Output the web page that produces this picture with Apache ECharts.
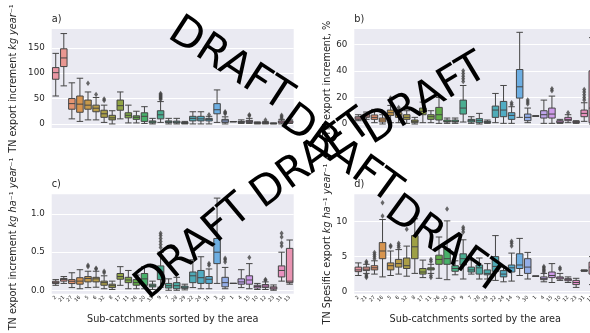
<!DOCTYPE html>
<html>
<head>
<meta charset="utf-8">
<script src="https://cdn.jsdelivr.net/npm/echarts@6/dist/echarts.min.js"></script>
<style>
html, body {margin: 0; padding: 0; background: #fff;}
#chart {width: 590px; height: 333px;}
</style>
</head>
<body>
<div id="chart"></div>
<script>
const categories = ['2', '21', '27', '16', '5', '6', '32', '8', '17', '11', '26', '20', '33', '9', '7',
    '28', '29', '22', '24', '14', '3', '30', '1', '4', '15', '10', '12', '23', '31', '13'];

// [min, q1, median, q3, max] for every sub-catchment, same order as categories
const boxA = [
    [55, 88, 101, 111, 139], [75, 113, 130, 148, 178], [10, 29, 40, 50, 81], [5, 23, 39, 55, 90],
    [8, 29, 37, 47, 63], [8, 24, 31, 37, 52], [3, 13, 20, 27, 37], [0, 8, 12, 17, 26],
    [10, 27, 36, 47, 63], [2, 12, 17, 22, 37], [2, 9, 13, 16, 25], [1, 5, 15, 22, 34],
    [0, 2, 4, 6, 11], [3, 10, 18, 26, 44], [0, 2.5, 4, 6, 11], [0, 2, 3.5, 5.5, 11],
    [0, 1, 2, 3, 5], [0, 6, 11, 15, 24], [0, 6, 10, 15, 24], [0, 6, 9, 11, 15],
    [3, 20, 28, 40, 67], [0, 3, 6, 9, 14], [4.5, 4.5, 4.5, 4.5, 4.5], [1, 3, 4, 5, 8],
    [1, 3, 5, 7, 11], [0, 1, 2, 3, 4], [0, 1, 2, 3, 5], [0, 0.5, 1, 1.5, 2],
    [0, 2, 4, 6, 9], [1, 2, 4, 6, 8]
];
const outA = [['5', 80], ['6', 58], ['32', 49], ['32', 46], ['9', 48], ['9', 50], ['9', 52], ['9', 54],
    ['9', 56], ['9', 58], ['9', 60], ['14', 18], ['30', 20], ['30', 22], ['30', 24], ['15', 16], ['15', 18],
    ['12', 8], ['31', 11], ['31', 14], ['31', 17]];

const boxB = [
    [2.5, 3.5, 4.5, 5.5, 7], [3.5, 5, 6, 7.5, 9], [1, 3.5, 5, 6.8, 11], [0, 1.5, 3, 4.5, 7],
    [1, 6.5, 8.5, 10.5, 14], [1, 5, 7, 8.5, 11], [0.5, 3.5, 5, 7, 10], [0, 1, 2, 3, 5],
    [1, 7, 9.5, 12, 16.5], [1, 3.5, 5.5, 7, 10], [0.5, 3, 7, 12.5, 20], [0.5, 1.5, 2, 3, 4.5],
    [0.5, 1.5, 2, 3, 4.5], [1.5, 7.5, 12, 18, 29], [0.5, 1.5, 2.5, 3.5, 5.5], [0, 1, 2.5, 4, 8],
    [0.5, 1, 1.5, 2, 3], [1, 5, 10.5, 13.5, 23], [0.5, 5.5, 10.5, 17, 29], [0.5, 3.5, 6.5, 8.5, 13],
    [5, 19.5, 28, 41, 69], [1, 2.5, 5, 7.5, 12], [6, 6, 6, 6, 6], [0.5, 4.5, 7, 10, 18],
    [0.5, 4.5, 7.5, 12, 21], [0.5, 1, 1.5, 2.5, 3.5], [1, 2.5, 3.5, 5, 7], [0.5, 1, 1.5, 2, 2.5],
    [2, 5.5, 8, 10.5, 16], [0, 1, 12, 40, 65]
];
const outB = [['5', 18], ['5', 19.5], ['6', 12.5], ['9', 32], ['9', 34], ['9', 36], ['9', 38], ['9', 40],
    ['14', 14.5], ['14', 16], ['30', 15], ['30', 16.5], ['30', 18], ['15', 25], ['15', 26.5], ['12', 8.5],
    ['31', 18], ['31', 20], ['31', 22], ['31', 24], ['31', 26]];

const boxC = [
    [0.065, 0.088, 0.1, 0.118, 0.14], [0.09, 0.12, 0.14, 0.155, 0.18], [0.035, 0.088, 0.118, 0.14, 0.23],
    [0.02, 0.08, 0.12, 0.165, 0.27], [0.035, 0.11, 0.155, 0.18, 0.25], [0.04, 0.11, 0.15, 0.17, 0.25],
    [0.02, 0.066, 0.1, 0.12, 0.19], [0.01, 0.035, 0.06, 0.08, 0.12], [0.065, 0.145, 0.18, 0.22, 0.31],
    [0.02, 0.1, 0.135, 0.17, 0.26], [0.02, 0.066, 0.1, 0.14, 0.2], [0.02, 0.066, 0.15, 0.22, 0.31],
    [0.01, 0.044, 0.06, 0.08, 0.12], [0.04, 0.14, 0.24, 0.32, 0.5], [0, 0.03, 0.06, 0.09, 0.15],
    [0, 0.02, 0.06, 0.1, 0.17], [0.005, 0.025, 0.04, 0.055, 0.08], [0.035, 0.1, 0.19, 0.24, 0.4],
    [0.02, 0.09, 0.165, 0.26, 0.44], [0.02, 0.09, 0.145, 0.18, 0.28], [0.09, 0.35, 0.5, 0.68, 1.21],
    [0.02, 0.045, 0.1, 0.17, 0.3], [0.09, 0.09, 0.09, 0.09, 0.09], [0.035, 0.08, 0.11, 0.15, 0.27],
    [0.02, 0.08, 0.135, 0.19, 0.35], [0.01, 0.03, 0.05, 0.066, 0.09], [0.01, 0.035, 0.055, 0.075, 0.11],
    [0, 0.015, 0.03, 0.045, 0.07], [0.12, 0.175, 0.26, 0.32, 0.5], [0.08, 0.1, 0.12, 0.55, 0.66]
];
const outC = [['5', 0.31], ['5', 0.33], ['6', 0.28], ['6', 0.29], ['32', 0.23], ['32', 0.25],
    ['9', 0.56], ['9', 0.6], ['9', 0.64], ['9', 0.68], ['9', 0.72], ['9', 0.75], ['14', 0.33], ['14', 0.35],
    ['30', 0.37], ['30', 0.4], ['30', 0.42], ['15', 0.43], ['12', 0.13], ['12', 0.14],
    ['31', 0.58], ['31', 0.62], ['31', 0.7], ['31', 0.75]];

const boxD = [
    [2.3, 2.85, 3.1, 3.5, 4.1], [2.6, 3, 3.2, 3.5, 3.9], [2.5, 3.1, 3.4, 3.7, 4.4], [2.1, 4.7, 5.8, 7, 10.3],
    [2.3, 3.1, 3.7, 4.1, 5.8], [2.5, 3.5, 4, 4.6, 6], [2.2, 3.3, 3.7, 4.8, 6.5], [2.6, 4.7, 6.4, 8, 10.4],
    [2, 2.5, 2.8, 3.3, 4.5], [2.6, 3.1, 3.25, 3.4, 3.9], [1.9, 3.9, 4.6, 5.2, 7.8], [1.7, 3.9, 4.7, 6.1, 10.1],
    [2.4, 2.9, 3.3, 3.7, 4.4], [1.8, 3.8, 4.7, 5.4, 7.4], [2.5, 2.8, 3.1, 3.5, 4.5], [1.8, 2.5, 3.4, 3.8, 4.8],
    [1.8, 2.4, 2.6, 3.1, 4], [1.6, 2.9, 3.6, 5, 8], [1.4, 2.1, 2.5, 3, 3.5], [1.5, 2.8, 3.4, 3.8, 5.5],
    [2.3, 3.3, 3.8, 5.4, 7.6], [1.8, 2.6, 3.5, 4.7, 5.6], [2.2, 2.2, 2.2, 2.2, 2.2], [1.4, 1.7, 1.85, 2.1, 2.6],
    [1.3, 2, 2.3, 2.8, 4], [1.6, 1.8, 1.95, 2.1, 2.6], [1.3, 1.55, 1.7, 1.85, 2.1], [0.6, 1, 1.3, 1.6, 1.9],
    [2.9, 2.95, 3, 3.05, 3.1], [1, 2.5, 3.5, 4.2, 5]
];
const outD = [['21', 4.1], ['21', 4.3], ['21', 2.4], ['21', 2.2], ['21', 2.0], ['27', 4.7], ['27', 5.0],
    ['27', 5.3], ['27', 5.6], ['16', 10.8], ['16', 12.7], ['5', 6.4], ['5', 6.6], ['6', 6.3], ['6', 6.6],
    ['6', 6.9], ['32', 8.9], ['11', 4.3], ['11', 4.6], ['11', 2.3], ['11', 2.0], ['20', 11.8], ['9', 8.5],
    ['9', 8.9], ['9', 9.2], ['14', 6.5], ['14', 6.9], ['14', 7.2], ['4', 2.8], ['4', 3.0], ['4', 3.2],
    ['4', 3.4], ['4', 3.6], ['10', 3.2], ['10', 3.4]];

// seaborn husl palette (l=.7) desaturated to .75, edges in a shared gray
const M = [[3.2406, -1.5372, -0.4986], [-0.9689, 1.8758, 0.0415], [0.0557, -0.2040, 1.0570]];
const maxChroma = (L, H) => {
    const hr = H * Math.PI / 180, sinH = Math.sin(hr), cosH = Math.cos(hr);
    const sub1 = Math.pow(L + 16, 3) / 1560896;
    const sub2 = sub1 > 0.008856 ? sub1 : L / 903.3;
    let result = Infinity;
    M.forEach(([m1, m2, m3]) => {
        const top = (0.99915 * m1 + 1.05122 * m2 + 1.14460 * m3) * sub2;
        const bottom = ((0.86330 * m3 - 0.17266 * m2) * sinH + (0.12949 * m3 - 0.38848 * m1) * cosH) * sub2;
        [0, 1].forEach(t => {
            const C = L * (top - 1.05122 * t) / (bottom + 0.17266 * sinH * t);
            if (C > 0 && C < result) result = C;
        });
    });
    return result;
};
const huslToRgb = (H, S, L) => {
    const C = maxChroma(L, H) / 100 * S;
    const hr = H * Math.PI / 180;
    const U = C * Math.cos(hr), V = C * Math.sin(hr);
    const t = (L + 16) / 116;
    const Y = t * t * t > 0.008856 ? t * t * t : (116 * t - 16) / 903.3;
    const vu = U / (13 * L) + 0.19784, vv = V / (13 * L) + 0.46834;
    const X = -(9 * Y * vu) / ((vu - 4) * vv - vu * vv);
    const Z = (9 * Y - 15 * vv * Y - vv * X) / (3 * vv);
    return M.map(r => {
        const c = r[0] * X + r[1] * Y + r[2] * Z;
        const v = c <= 0.0031308 ? 12.92 * c : 1.055 * Math.pow(c, 1 / 2.4) - 0.055;
        return Math.min(1, Math.max(0, v));
    });
};
const n = categories.length;
const palette = categories.map((c, i) => {
    const rgb = huslToRgb(((i / n + 0.01) % 1) * 359, 0.9 * 99, 0.7 * 99);
    const l = (Math.max(...rgb) + Math.min(...rgb)) / 2;
    return rgb.map(v => l + (v - l) * 0.75);
});
const lum = Math.min(...palette.map(c => (Math.max(...c) + Math.min(...c)) / 2)) * 0.6;
const gray = `rgb(${Math.round(lum * 255)},${Math.round(lum * 255)},${Math.round(lum * 255)})`;
const fills = palette.map(c => `rgb(${c.map(v => Math.round(v * 255)).join(',')})`);

const font = 'DejaVu Sans';
const textColor = '#262626';
const grids = [
    {left: 51.7, top: 29, width: 242, height: 99},
    {left: 354.3, top: 29, width: 242, height: 99},
    {left: 51.7, top: 194.3, width: 242, height: 99.4},
    {left: 354.3, top: 194.3, width: 242, height: 99.4},
];
const yNames = [
    ['TN export increment ', '{it|kg year}⁻¹'],
    ['TN export increment, %', ''],
    ['TN export increment ', '{it|kg ha}⁻¹ {it|year}⁻¹'],
    ['TN Spesific export ', '{it|kg ha}⁻¹ {it|year}⁻¹'],
];
const yRange = [[-8, 187, 4], [-3, 71.5, 4], [-0.045, 1.26, 3], [-0.3, 13.9, 3]];
const yGap = [33, 22, 33, 22];
const boxes = [boxA, boxB, boxC, boxD];
const outs = [outA, outB, outC, outD];
const letters = ['a)', 'b)', 'c)', 'd)'];

const chart = echarts.init(document.getElementById('chart'), null, {renderer: 'canvas'});

// watermark stamps: centre x, centre y, angle
const watermark = [
    [230, 65, -33], [340, 155, -36], [445, 246, -36],
    [194, 248, 40], [312, 160, 36], [425, 100, 31]
].map(([x, y, r]) => ({
    type: 'text', x, y, rotation: r * Math.PI / 180, z: 100,
    style: {text: 'DRAFT', fill: '#000', font: `42px "${font}"`, align: 'center', verticalAlign: 'middle'}
}));

chart.setOption({
    backgroundColor: '#fff',
    animation: false,
    textStyle: {fontFamily: font, color: textColor},
    grid: grids.map(g => Object.assign({show: true, backgroundColor: '#EAEAF2', borderWidth: 0,
        containLabel: false, outerBoundsMode: 'none'}, g)),
    xAxis: grids.map((g, i) => ({
        type: 'category', gridIndex: i, data: categories, boundaryGap: true,
        axisLine: {show: false}, axisTick: {show: false}, splitLine: {show: false},
        axisLabel: {show: i >= 2, interval: 0, rotate: 45, fontSize: 5, color: textColor, margin: 3},
        name: i >= 2 ? 'Sub-catchments sorted by the area' : '', nameLocation: 'middle', nameGap: 21,
        nameTextStyle: {fontSize: 9.7, color: textColor}
    })),
    yAxis: grids.map((g, i) => ({
        type: 'value', gridIndex: i, min: yRange[i][0], max: yRange[i][1], splitNumber: yRange[i][2],
        axisLine: {show: false}, axisTick: {show: false},
        splitLine: {show: true, showMinLine: false, showMaxLine: false, lineStyle: {color: '#fff', width: 1}},
        axisLabel: {
            fontSize: 8.7, color: textColor, margin: 7, showMinLabel: false, showMaxLabel: false,
            formatter: v => i === 2 ? v.toFixed(1) : String(v)
        },
        name: yNames[i][0] + yNames[i][1], nameLocation: 'middle', nameGap: yGap[i],
        nameTextStyle: {fontSize: 9.7, color: textColor, rich: {it: {fontStyle: 'italic', fontSize: 9.7, color: textColor}}}
    })),
    graphic: letters.map((t, i) => ({
        type: 'text', left: grids[i].left, top: grids[i].top - 15,
        style: {text: t, fill: textColor, font: `9.7px "${font}"`}
    })).concat(watermark),
    series: boxes.flatMap((b, i) => [{
        type: 'boxplot', xAxisIndex: i, yAxisIndex: i, boxWidth: [6.5, 6.5],
        itemStyle: {borderColor: gray, borderWidth: 1},
        emphasis: {disabled: true},
        data: b.map((v, k) => ({value: v, itemStyle: {color: fills[k], borderColor: gray}}))
    }, {
        type: 'scatter', xAxisIndex: i, yAxisIndex: i, symbol: 'diamond', symbolSize: [4, 5.5],
        itemStyle: {color: gray},
        data: outs[i].map(([c, v]) => [categories.indexOf(c), v])
    }])
});
</script>
</body>
</html>
